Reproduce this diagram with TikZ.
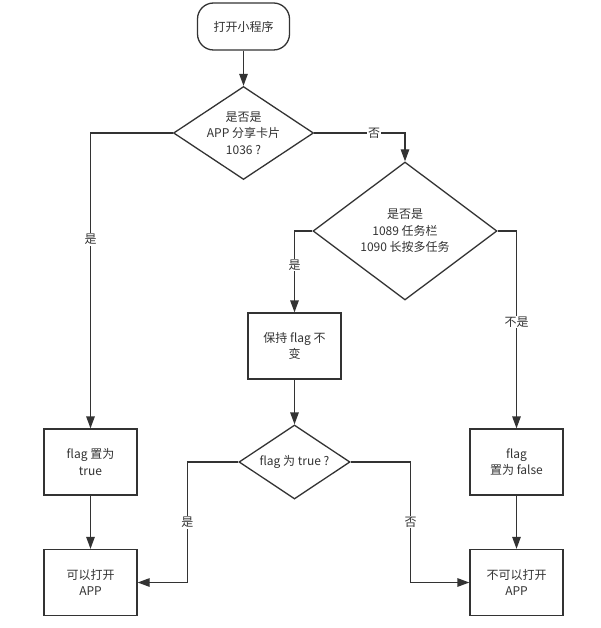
\documentclass[tikz,border=0pt]{standalone}
\usepackage{fontspec}
\setmainfont{Noto Sans CJK SC}
\usepackage{tikz}
\usetikzlibrary{shapes.geometric,arrows.meta,positioning}
\definecolor{ink}{HTML}{333333}

\begin{document}
\begin{tikzpicture}[x=1pt,y=-1pt,
    every node/.style={text=ink,font=\fontsize{12}{16.5}\selectfont,align=center},
    start/.style={draw=ink,line width=1.3pt,rounded corners=16pt,minimum width=92pt,minimum height=47pt},
    box/.style={draw=ink,line width=1.3pt,minimum width=93pt,minimum height=66pt,inner sep=0pt},
    decision/.style={draw=ink,line width=1.3pt,diamond,aspect=1.5,inner sep=-4pt},
    flow/.style={draw=ink,line width=1.3pt,-{Triangle[length=12pt,width=8.5pt]}},
    tag/.style={fill=white,inner sep=1pt}]
    \path[fill=white] (0,0) rectangle (600,628);
    \useasboundingbox (0,0) rectangle (600,628);

    % Entry and first check
    \node[start] (open) at (243.5,26.5) {打开小程序};
    \node[decision,minimum width=140pt,minimum height=93pt] (isshare) at (243.5,133) {是否是\\APP 分享卡片\\1036 ?};
    \node[decision,minimum width=184pt,minimum height=138pt] (istask) at (405,231) {是否是\\1089 任务栏\\1090 长按多任务};

    % Flag handling
    \node[box] (keep) at (294.5,346) {保持 flag 不\\变};
    \node[decision,minimum width=111pt,minimum height=74pt] (istrue) at (294.5,462) {flag 为 true ?};
    \node[box] (settrue) at (90.5,462) {flag 置为\\true};
    \node[box] (setfalse) at (516.5,462) {flag\\置为 false};

    % Results
    \node[box] (canopen) at (90.5,582.5) {可以打开\\APP};
    \node[box] (cannot) at (516.5,582.5) {不可以打开\\APP};

    \draw[flow] (open) -- (isshare);
    \draw[flow] (isshare.west) -| (settrue.north) node[tag,pos=0.68] {是};
    \draw[flow] (isshare.east) -| (istask.north) node[tag,pos=0.33] {否};
    \draw[flow] (istask.west) -| (keep.north) node[tag,pos=0.71] {是};
    \draw[flow] (istask.east) -| (setfalse.north) node[tag,pos=0.73] {不是};
    \draw[flow] (keep) -- (istrue);
    \draw[flow] (settrue) -- (canopen);
    \draw[flow] (setfalse) -- (cannot);
    \draw[flow] (istrue.west) -- ++(-51,0) |- (canopen.east) node[tag,pos=0.25] {是};
    \draw[flow] (istrue.east) -- ++(60,0) |- (cannot.west) node[tag,pos=0.25] {否};
\end{tikzpicture}
\end{document}
